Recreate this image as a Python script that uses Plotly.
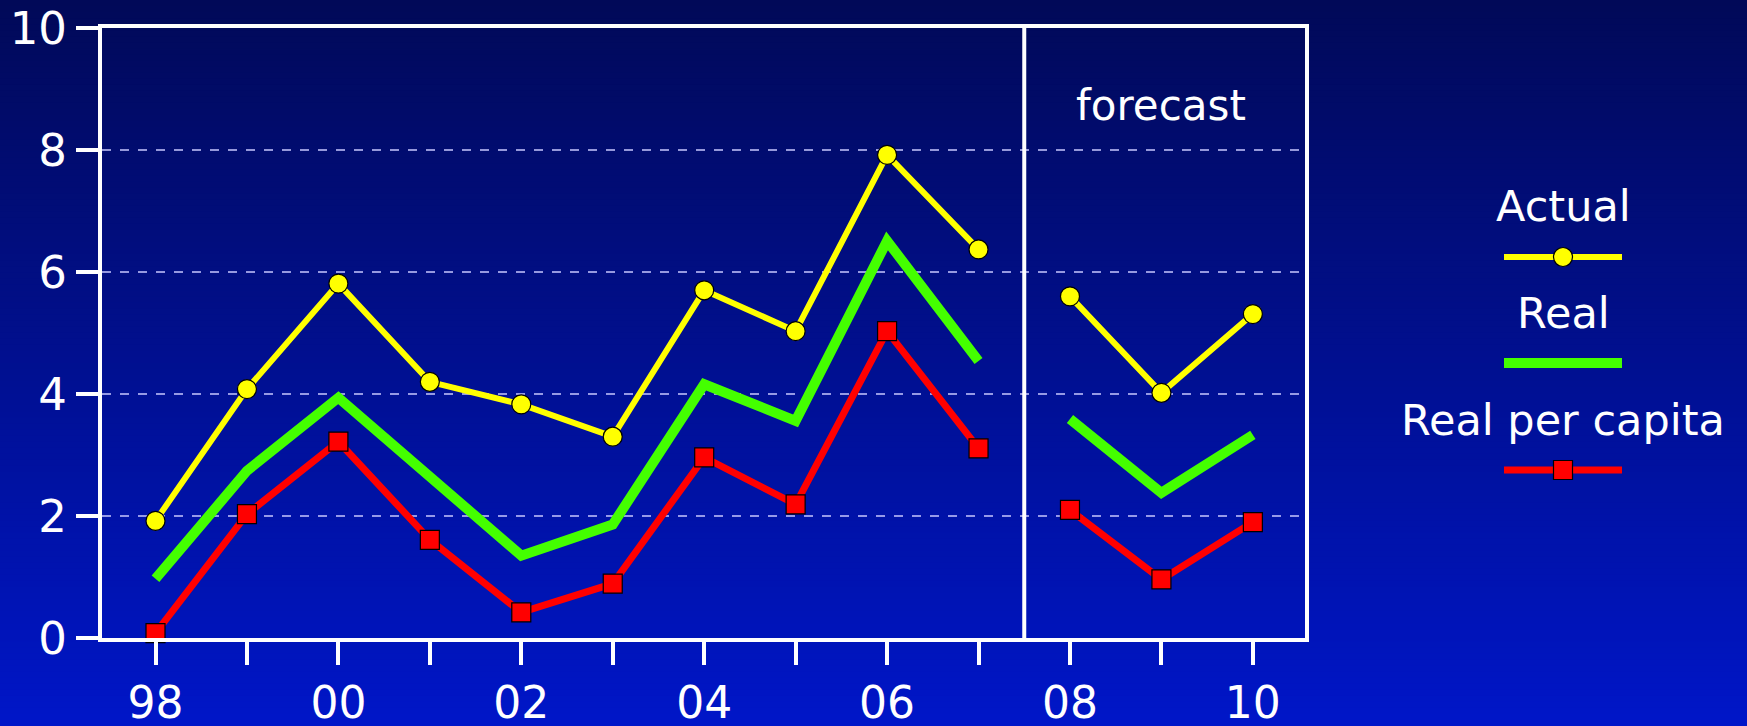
import plotly.graph_objects as go

# ---------------- data ----------------
years = [1998, 1999, 2000, 2001, 2002, 2003, 2004, 2005, 2006, 2007, 2008, 2009, 2010]
year_labels = ["98", "", "00", "", "02", "", "04", "", "06", "", "08", "", "10"]
forecast_start = 2008

actual = [1.92, 4.08, 5.81, 4.20, 3.83, 3.30, 5.70, 5.03, 7.92, 6.37, 5.60, 4.02, 5.31]
real = [0.97, 2.74, 3.94, 2.63, 1.35, 1.86, 4.16, 3.56, 6.51, 4.54, 3.59, 2.38, 3.33]
real_per_capita = [0.08, 2.03, 3.22, 1.61, 0.42, 0.89, 2.96, 2.19, 5.03, 3.11, 2.10, 0.96, 1.90]

series_names = ["Actual", "Real", "Real per capita"]
y_ticks = [0, 2, 4, 6, 8, 10]
forecast_label = "forecast"

# ---------------- layout constants ----------------
W, H = 1747, 726
ML, MR, MT, MB = 102, 442, 28, 88
PW, PH = W - ML - MR, H - MT - MB
FONT = "DejaVu Sans"

def px_x(px):
    return (px - ML) / PW

def px_y(py):
    return (H - MB - py) / PH

styles = {
    "Actual": dict(line=dict(color="#ffff00", width=6),
                   marker=dict(symbol="circle", size=19, color="#ffff00",
                               line=dict(color="#000000", width=1.2)),
                   mode="lines+markers"),
    "Real": dict(line=dict(color="#44ff00", width=10), mode="lines"),
    "Real per capita": dict(line=dict(color="#ff0000", width=7),
                            marker=dict(symbol="square", size=19, color="#ff0000",
                                        line=dict(color="#000000", width=1.2)),
                            mode="lines+markers"),
}

fig = go.Figure()
hist = [i for i, y in enumerate(years) if y < forecast_start]
fc = [i for i, y in enumerate(years) if y >= forecast_start]
for name, vals in zip(series_names, [actual, real, real_per_capita]):
    for idx in (hist, fc):
        fig.add_trace(go.Scatter(
            x=[years[i] for i in idx], y=[vals[i] for i in idx],
            name=name, showlegend=False, cliponaxis=False, **styles[name]))

# ---------------- background gradient ----------------
shapes = []
top = (1, 9, 88)
bot = (0, 22, 200)
n = 120
for k in range(n):
    t = (k + 0.5) / n
    c = tuple(round(top[j] + (bot[j] - top[j]) * t) for j in range(3))
    y0 = k * H / n
    y1 = (k + 1) * H / n + 0.8
    shapes.append(dict(type="rect", xref="paper", yref="paper", layer="below",
                       x0=px_x(0), x1=px_x(W), y0=px_y(y1), y1=px_y(y0),
                       fillcolor="rgb(%d,%d,%d)" % c, line=dict(width=0)))

# forecast divider
last_hist = years[hist[-1]]
first_fc = years[fc[0]]
shapes.append(dict(type="line", xref="x", yref="paper", x0=(last_hist + first_fc) / 2,
                   x1=(last_hist + first_fc) / 2, y0=0, y1=1,
                   line=dict(color="white", width=4)))

# ---------------- manual legend ----------------
lx0, lx1, lcx = 1504, 1622, 1563
leg = [("Actual", 206, 257), ("Real", 313, 363), ("Real per capita", 420, 470)]
annotations = []
for name, ty, ly in leg:
    annotations.append(dict(x=px_x(lcx), y=px_y(ty), xref="paper", yref="paper",
                            text=name, showarrow=False, xanchor="center", yanchor="middle",
                            font=dict(family=FONT, size=43, color="white")))
    st = styles[name]
    shapes.append(dict(type="line", xref="paper", yref="paper",
                       x0=px_x(lx0), x1=px_x(lx1), y0=px_y(ly), y1=px_y(ly),
                       line=dict(color=st["line"]["color"], width=st["line"]["width"])))
    if "marker" in st:
        r = 9.5
        shapes.append(dict(type="circle" if st["marker"]["symbol"] == "circle" else "rect",
                           xref="paper", yref="paper",
                           x0=px_x(lcx - r), x1=px_x(lcx + r),
                           y0=px_y(ly + r), y1=px_y(ly - r),
                           fillcolor=st["marker"]["color"],
                           line=dict(color="black", width=1.2)))

annotations.append(dict(x=(first_fc + years[-1]) / 2, y=px_y(106), xref="x", yref="paper",
                        text=forecast_label, showarrow=False, xanchor="center", yanchor="middle",
                        font=dict(family=FONT, size=42, color="white")))

fig.update_layout(
    width=W, height=H,
    margin=dict(l=ML, r=MR, t=MT, b=MB, autoexpand=False),
    paper_bgcolor="rgb(1,16,146)",
    plot_bgcolor="rgba(0,0,0,0)",
    font=dict(family=FONT, color="white", size=45),
    shapes=shapes,
    annotations=annotations,
    showlegend=False,
)
fig.update_xaxes(
    range=[years[0] - 0.585, years[-1] + 0.57],
    tickvals=years, ticktext=year_labels,
    ticks="outside", ticklen=23, tickwidth=4, tickcolor="white",
    showline=True, linewidth=4, linecolor="white", mirror=True,
    showgrid=False, zeroline=False,
    tickfont=dict(family=FONT, size=44, color="white"),
)
fig.update_yaxes(
    range=[0, 10], tickvals=y_ticks,
    ticks="outside", ticklen=22, tickwidth=4, tickcolor="white",
    showline=True, linewidth=4, linecolor="white", mirror=True,
    showgrid=True, gridcolor="rgba(200,200,255,0.75)", gridwidth=1.5, griddash="dash",
    zeroline=False,
    tickfont=dict(family=FONT, size=45, color="white"),
)

fig.write_html(
    "out.html",
    config={"displayModeBar": False},
    post_script="document.body.style.margin='0';document.body.style.overflow='hidden';"
                "document.body.style.background='rgb(1,16,146)';",
)
